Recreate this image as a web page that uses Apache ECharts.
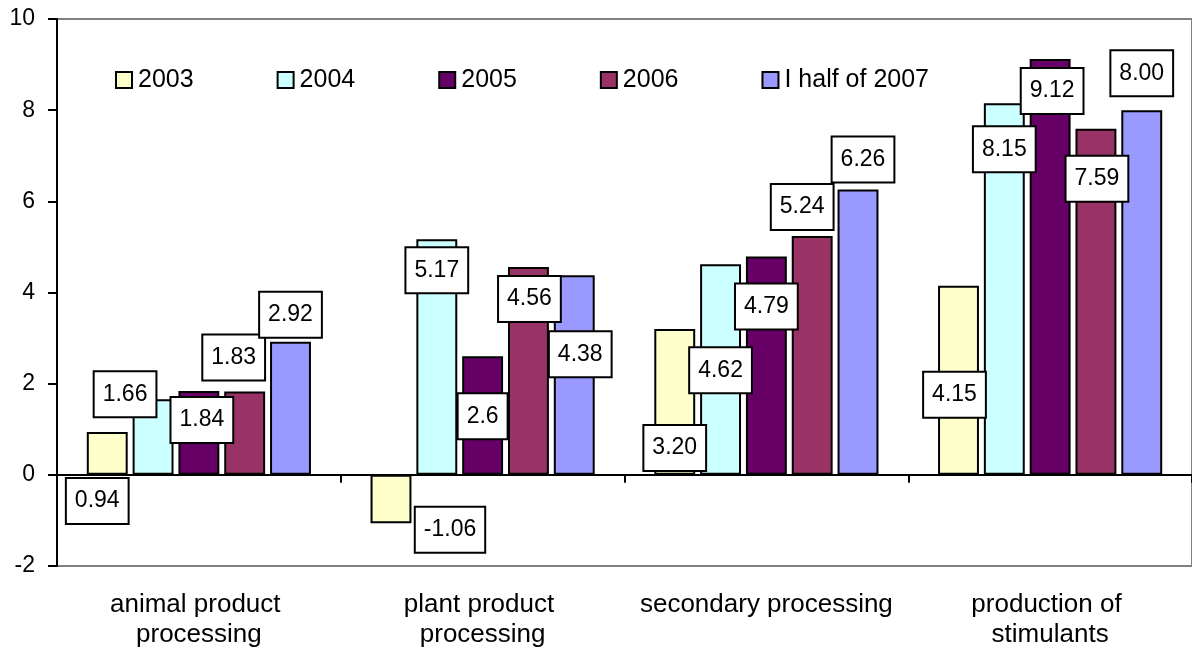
<!DOCTYPE html>
<html>
<head>
<meta charset="utf-8">
<script src="https://cdn.jsdelivr.net/npm/echarts@6/dist/echarts.min.js"></script>
<style>
  html, body { margin: 0; padding: 0; background: #fff; }
  #chart { width: 1192px; height: 653px; }
</style>
</head>
<body>
<div id="chart"></div>
<script>
// Categories and yearly values (values kept as written on the labels)
const categories = ['animal product processing', 'plant product processing', 'secondary processing', 'production of stimulants'];
const seriesNames = ['2003', '2004', '2005', '2006', 'I half of 2007'];
const values2003 = ['0.94', '-1.06', '3.20', '4.15'];
const values2004 = ['1.66', '5.17', '4.62', '8.15'];
const values2005 = ['1.84', '2.6', '4.79', '9.12'];
const values2006 = ['1.83', '4.56', '5.24', '7.59'];
const valuesHalf2007 = ['2.92', '4.38', '6.26', '8.00'];
const yMin = -2, yMax = 10, yStep = 2;

const seriesValues = [values2003, values2004, values2005, values2006, valuesHalf2007];
const colors = ['#FFFFCC', '#CCFFFF', '#660066', '#993366', '#9999FF'];

// Hand-placed value boxes: pixel shift from the default spot above each bar
const labelShift = [
  [[-10, 91], [59, 77], [0, 141], [-4, 131]],
  [[-28, 17], [0, 53], [0, 128], [0, 68]],
  [[3, 51], [0, 82], [0, 72], [2, 54]],
  [[-11, -12], [1, 54], [-10, -7], [1, 72]],
  [[0, -5], [6, 101], [5, -8], [0, -15]]
];

const font = '"Liberation Sans", Arial, sans-serif';

const series = seriesNames.map((name, s) => ({
  name: name,
  type: 'bar',
  xAxisIndex: 0,
  barCategoryGap: '21%',
  barGap: '12%',
  itemStyle: { color: colors[s], borderColor: '#000', borderWidth: 2 },
  label: {
    show: true,
    position: 'top',
    distance: 0,
    color: '#000',
    fontFamily: font,
    fontSize: 23,
    lineHeight: 24,
    backgroundColor: '#fff',
    borderColor: '#000',
    borderWidth: 2,
    padding: [10, 8, 10, 8],
    formatter: p => seriesValues[s][p.dataIndex]
  },
  data: seriesValues[s].map((v, i) => ({
    value: parseFloat(v),
    label: { offset: labelShift[s][i] }
  }))
}));

const chart = echarts.init(document.getElementById('chart'));
chart.setOption({
  animation: false,
  color: colors,
  grid: {
    left: 57, top: 19, right: -4, bottom: 87,
    show: true, borderColor: '#808080', borderWidth: 2, backgroundColor: 'transparent'
  },
  legend: {
    data: seriesNames,
    left: 110, top: 62,
    icon: 'rect',
    itemWidth: 16, itemHeight: 16,
    itemGap: 83,
    textStyle: { fontFamily: font, fontSize: 25, lineHeight: 26, color: '#000', padding: [0, 0, 0, 1] }
  },
  xAxis: [
    {
      type: 'category',
      data: categories,
      axisLine: { onZero: true, lineStyle: { color: '#000', width: 2 } },
      axisTick: { show: true, length: 8, lineStyle: { color: '#000', width: 2 } },
      axisLabel: { show: false }
    },
    {
      type: 'category',
      data: categories,
      position: 'bottom',
      axisLine: { show: false, onZero: false },
      axisTick: { show: false },
      axisLabel: {
        interval: 0,
        margin: 24,
        color: '#000',
        fontFamily: font,
        fontSize: 26,
        lineHeight: 30,
        width: 266,
        overflow: 'break',
        align: 'center'
      }
    }
  ],
  yAxis: {
    type: 'value',
    min: yMin, max: yMax, interval: yStep,
    axisLine: { show: true, lineStyle: { color: '#000', width: 2 } },
    axisTick: { show: true, length: 9, lineStyle: { color: '#000', width: 2 } },
    splitLine: { show: false },
    axisLabel: { margin: 22, color: '#000', fontFamily: font, fontSize: 23 }
  },
  series: series
});
</script>
</body>
</html>
